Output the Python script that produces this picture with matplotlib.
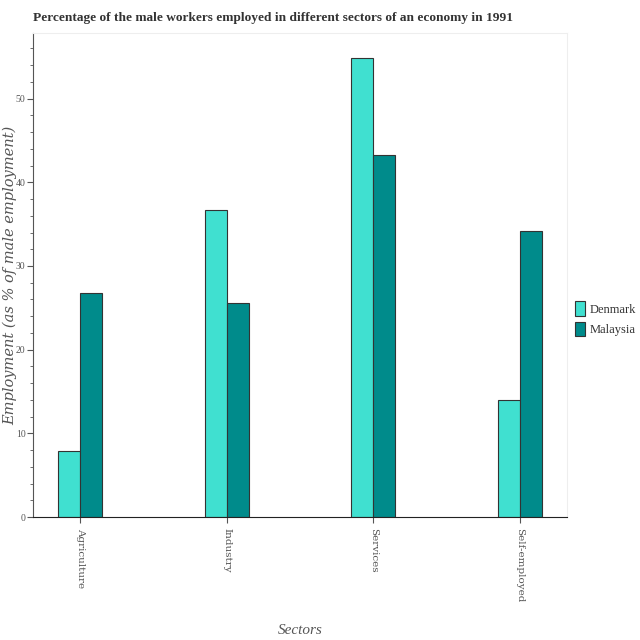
import numpy as np
import matplotlib
matplotlib.use("Agg")
import matplotlib.pyplot as plt
from matplotlib.ticker import MultipleLocator

sectors = ["Agriculture", "Industry", "Services", "Self-employed"]
denmark = [7.9, 36.7, 54.9, 14.0]
malaysia = [26.8, 25.6, 43.2, 34.2]

fig = plt.figure(figsize=(6.4, 6.4), dpi=100)
ax = fig.add_axes([0.052, 0.192, 0.834, 0.756])

x = np.arange(len(sectors))
w = 0.15
ax.bar(x - w / 2, denmark, width=w, color="#40e0d0", edgecolor="#333333", linewidth=0.8, label="Denmark")
ax.bar(x + w / 2, malaysia, width=w, color="#008b8b", edgecolor="#333333", linewidth=0.8, label="Malaysia")

ax.set_xlim(-0.32, 3.32)
ax.set_ylim(0, 57.8)
ax.set_xticks(x)
ax.set_xticklabels(sectors, rotation=-90, family="DejaVu Serif", fontsize=7.5, color="#555555")
ax.yaxis.set_major_locator(MultipleLocator(10))
ax.yaxis.set_minor_locator(MultipleLocator(2))
for lab in ax.get_yticklabels():
    lab.set_family("Liberation Serif")
    lab.set_fontsize(7)
    lab.set_color("#555555")
ax.tick_params(axis="y", which="major", length=4, pad=1.5, color="#555555")
ax.tick_params(axis="y", which="minor", length=2, color="#555555")
ax.tick_params(axis="x", length=4, color="#555555")

for s in ["top", "right"]:
    ax.spines[s].set_color("#eeeeee")
ax.spines["left"].set_color("#555555")
ax.spines["bottom"].set_color("#222222")

ax.set_title("Percentage of the male workers employed in different sectors of an economy in 1991",
             fontsize=9.6, fontweight="bold", family="Liberation Serif",
             color="#333333", loc="left", pad=9)
ax.set_ylabel("Employment (as % of male employment)", fontsize=10.5, style="italic",
              family="DejaVu Serif", color="#555555")
ax.yaxis.set_label_coords(-0.031, 0.5)
ax.set_xlabel("Sectors", fontsize=11, style="italic", family="Liberation Serif",
              color="#555555")
ax.xaxis.set_label_coords(0.5, -0.22)

leg = ax.legend(loc="center left", bbox_to_anchor=(1.0, 0.41), frameon=False,
                prop={"family": "Liberation Serif", "size": 9}, handlelength=0.8,
                handleheight=1.4, handletextpad=0.4, labelspacing=0.5, borderaxespad=0.2)
for t in leg.get_texts():
    t.set_color("#333333")

fig.savefig("out.png", dpi=100)
